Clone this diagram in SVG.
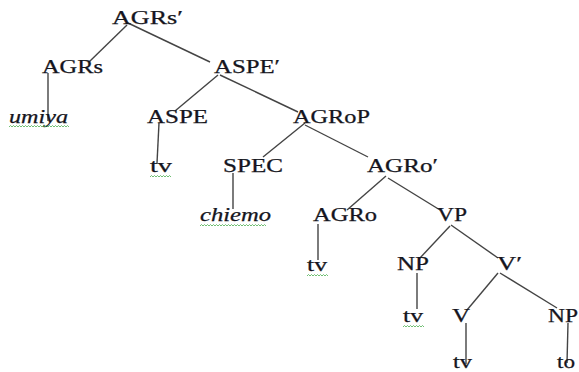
<svg xmlns="http://www.w3.org/2000/svg" width="579" height="372" viewBox="0 0 579 372">
<style>
.t{font-family:"Liberation Serif","Times New Roman",serif;font-size:18px;fill:#151520;stroke:#151520;stroke-width:0.25}
.i{font-style:italic}
.c line{stroke:#444;stroke-width:1.4}
.sq{fill:none;stroke:#4caf50;stroke-width:0.8}
</style>
<rect width="579" height="372" fill="#fff"/>
<g id="connectors" class="c">
<line x1="127" y1="25" x2="89" y2="62"/>
<line x1="128" y1="23" x2="210" y2="62"/>
<line x1="48" y1="73" x2="48" y2="121"/>
<line x1="218" y1="75" x2="175" y2="111"/>
<line x1="220" y1="75" x2="298" y2="112"/>
<line x1="159" y1="123" x2="157" y2="163"/>
<line x1="305" y1="123" x2="263" y2="157"/>
<line x1="305" y1="125" x2="368" y2="157"/>
<line x1="233" y1="173" x2="233" y2="209"/>
<line x1="386" y1="176" x2="347" y2="210"/>
<line x1="388" y1="178" x2="440" y2="210"/>
<line x1="318" y1="224" x2="318" y2="260"/>
<line x1="450" y1="226" x2="419" y2="259"/>
<line x1="451" y1="225" x2="498" y2="258"/>
<line x1="417" y1="273" x2="417" y2="309"/>
<line x1="498" y1="273" x2="467" y2="310"/>
<line x1="500" y1="273" x2="557" y2="308"/>
<line x1="466" y1="323" x2="466" y2="364"/>
<line x1="568" y1="323" x2="567" y2="363"/>
</g>
<g id="n-agrs-bar"><text class="t" x="112" y="24" textLength="71" lengthAdjust="spacingAndGlyphs">AGRs′</text></g>
<g id="n-agrs"><text class="t" x="42" y="73" textLength="61" lengthAdjust="spacingAndGlyphs">AGRs</text></g>
<g id="n-aspe-bar"><text class="t" x="214" y="73" textLength="66" lengthAdjust="spacingAndGlyphs">ASPE′</text></g>
<g id="n-umiya"><text class="t i" x="9" y="123" textLength="59" lengthAdjust="spacingAndGlyphs">umiya</text>
<path class="sq" d="M9 127 l1.5 -1.5 1.5 1.5 1.5 -1.5 1.5 1.5 1.5 -1.5 1.5 1.5 1.5 -1.5 1.5 1.5 1.5 -1.5 1.5 1.5 1.5 -1.5 1.5 1.5 1.5 -1.5 1.5 1.5 1.5 -1.5 1.5 1.5 1.5 -1.5 1.5 1.5 1.5 -1.5 1.5 1.5 1.5 -1.5 1.5 1.5 1.5 -1.5 1.5 1.5 1.5 -1.5 1.5 1.5 1.5 -1.5 1.5 1.5 1.5 -1.5 1.5 1.5 1.5 -1.5 1.5 1.5 1.5 -1.5 1.5 1.5 1.5 -1.5 1.5 1.5 1.5 -1.5 1.5 1.5 1.5 -1.5 1.5 1.5"/></g>
<g id="n-aspe"><text class="t" x="147" y="123" textLength="61" lengthAdjust="spacingAndGlyphs">ASPE</text></g>
<g id="n-agrop"><text class="t" x="293" y="123" textLength="77" lengthAdjust="spacingAndGlyphs">AGRoP</text></g>
<g id="n-tv1"><text class="t" x="150" y="172" textLength="22" lengthAdjust="spacingAndGlyphs">tv</text>
<path class="sq" d="M150 177 l1.5 -1.5 1.5 1.5 1.5 -1.5 1.5 1.5 1.5 -1.5 1.5 1.5 1.5 -1.5 1.5 1.5 1.5 -1.5 1.5 1.5 1.5 -1.5 1.5 1.5 1.5 -1.5 1.5 1.5"/></g>
<g id="n-spec"><text class="t" x="223" y="172" textLength="60" lengthAdjust="spacingAndGlyphs">SPEC</text></g>
<g id="n-agro-bar"><text class="t" x="367" y="172" textLength="71" lengthAdjust="spacingAndGlyphs">AGRo′</text></g>
<g id="n-chiemo"><text class="t i" x="200" y="221" textLength="71" lengthAdjust="spacingAndGlyphs">chiemo</text>
<path class="sq" d="M200 226 l1.5 -1.5 1.5 1.5 1.5 -1.5 1.5 1.5 1.5 -1.5 1.5 1.5 1.5 -1.5 1.5 1.5 1.5 -1.5 1.5 1.5 1.5 -1.5 1.5 1.5 1.5 -1.5 1.5 1.5 1.5 -1.5 1.5 1.5 1.5 -1.5 1.5 1.5 1.5 -1.5 1.5 1.5 1.5 -1.5 1.5 1.5 1.5 -1.5 1.5 1.5 1.5 -1.5 1.5 1.5 1.5 -1.5 1.5 1.5 1.5 -1.5 1.5 1.5 1.5 -1.5 1.5 1.5 1.5 -1.5 1.5 1.5 1.5 -1.5 1.5 1.5 1.5 -1.5 1.5 1.5 1.5 -1.5 1.5 1.5 1.5 -1.5 1.5 1.5 1.5 -1.5 1.5 1.5"/></g>
<g id="n-agro"><text class="t" x="313" y="221" textLength="64" lengthAdjust="spacingAndGlyphs">AGRo</text></g>
<g id="n-vp"><text class="t" x="437" y="221" textLength="30" lengthAdjust="spacingAndGlyphs">VP</text></g>
<g id="n-tv2"><text class="t" x="307" y="271" textLength="20" lengthAdjust="spacingAndGlyphs">tv</text>
<path class="sq" d="M307 276 l1.5 -1.5 1.5 1.5 1.5 -1.5 1.5 1.5 1.5 -1.5 1.5 1.5 1.5 -1.5 1.5 1.5 1.5 -1.5 1.5 1.5 1.5 -1.5 1.5 1.5 1.5 -1.5 1.5 1.5"/></g>
<g id="n-np1"><text class="t" x="397" y="270" textLength="32" lengthAdjust="spacingAndGlyphs">NP</text></g>
<g id="n-v-bar"><text class="t" x="497" y="270" textLength="25" lengthAdjust="spacingAndGlyphs">V′</text></g>
<g id="n-tv3"><text class="t" x="403" y="322" textLength="20" lengthAdjust="spacingAndGlyphs">tv</text>
<path class="sq" d="M403 327 l1.5 -1.5 1.5 1.5 1.5 -1.5 1.5 1.5 1.5 -1.5 1.5 1.5 1.5 -1.5 1.5 1.5 1.5 -1.5 1.5 1.5 1.5 -1.5 1.5 1.5 1.5 -1.5 1.5 1.5"/></g>
<g id="n-v"><text class="t" x="452" y="322" textLength="18" lengthAdjust="spacingAndGlyphs">V</text></g>
<g id="n-np2"><text class="t" x="548" y="322" textLength="30" lengthAdjust="spacingAndGlyphs">NP</text></g>
<g id="n-tv4"><text class="t" x="453" y="368" textLength="19" lengthAdjust="spacingAndGlyphs">tv</text></g>
<g id="n-to"><text class="t" x="557" y="368" textLength="18" lengthAdjust="spacingAndGlyphs">to</text></g>
</svg>
